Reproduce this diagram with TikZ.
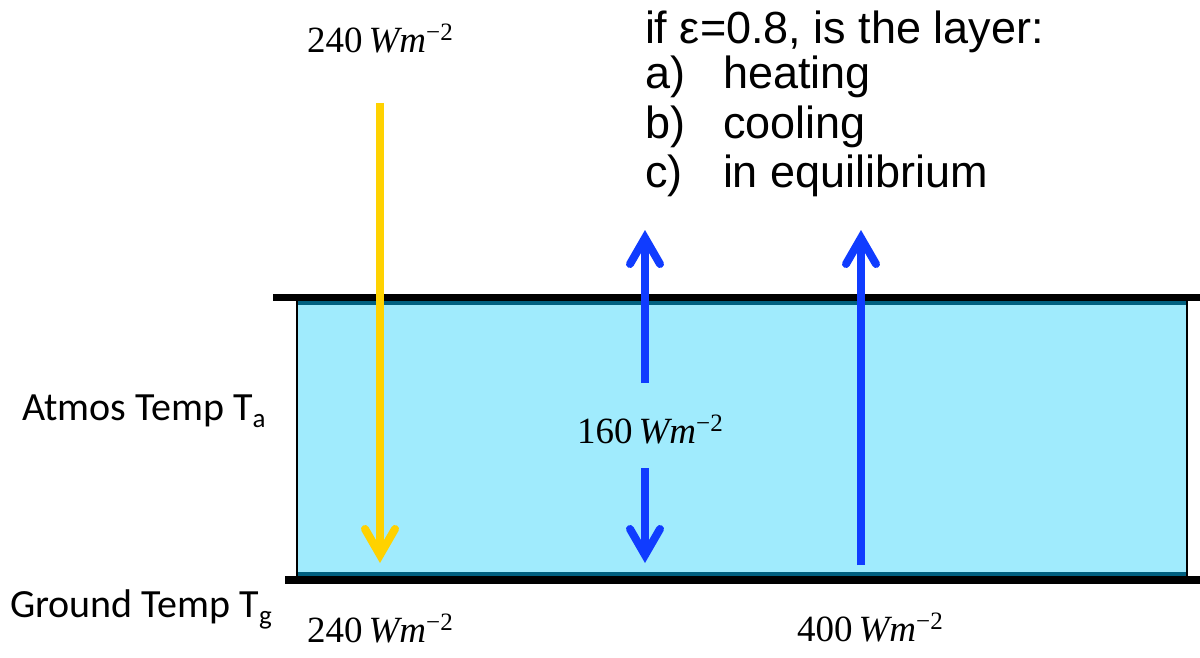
\documentclass[tikz,border=0pt]{standalone}
\usepackage{fontspec}
\setmainfont{Liberation Serif}
\newfontfamily\arialf{Liberation Sans}
\newfontfamily\labf{Carlito}
\usetikzlibrary{arrows.meta}
\definecolor{layerfill}{RGB}{160,235,253}
\definecolor{layeredge}{RGB}{0,96,128}
\definecolor{sunyellow}{RGB}{255,210,0}
\definecolor{irblue}{RGB}{16,60,255}
\newcommand{\flux}[1]{{\fontsize{37}{37}\selectfont #1\,\textit{Wm}\raisebox{12pt}{\fontsize{25}{25}\selectfont −2}}}
\begin{document}
\begin{tikzpicture}[x=1pt,y=-1pt,
  fluxlab/.style={anchor=base west,inner sep=0pt,outer sep=0pt},
  sidelab/.style={anchor=base west,inner sep=0pt,outer sep=0pt,font=\labf\fontsize{40}{40}\selectfont},
  qtext/.style={anchor=base west,inner sep=0pt,outer sep=0pt,font=\arialf\fontsize{45}{45}\selectfont},
  sunarrow/.style={draw=sunyellow,line width=8pt,-{Straight Barb[length=26pt,width=30pt,line cap=round,line join=miter]}},
  irarrow/.style={draw=irblue,line width=8pt,-{Straight Barb[length=26pt,width=30pt,line cap=round,line join=miter]}}
]
\useasboundingbox (0,0) rectangle (1200,658);
\fill[white] (0,0) rectangle (1200,658);
% layer
\fill[layerfill] (297,301) rectangle (1186,576);
\fill[layeredge] (297,301) rectangle (1186,305);
\fill[layeredge] (297,572) rectangle (1186,576);
\draw[line width=2pt] (296.5,301) -- (296.5,576);
\draw[line width=2pt] (1186.5,301) -- (1186.5,576);
\fill[black] (273,294) rectangle (1200,301);
\fill[black] (285,576) rectangle (1200,584);
% arrows
\coordinate (ys) at (380,103);
\coordinate (ye) at (380,563);
\coordinate (b1s) at (645,383);
\coordinate (b1e) at (645,230);
\coordinate (b2s) at (645,468);
\coordinate (b2e) at (645,563);
\coordinate (b3s) at (861,565);
\coordinate (b3e) at (861,230);
\draw[sunarrow] (ys) -- (ye);
\draw[irarrow] (b1s) -- (b1e);
\draw[irarrow] (b2s) -- (b2e);
\draw[irarrow] (b3s) -- (b3e);
% flux labels
\node[fluxlab] (ftop) at (307,53) {\flux{240}};
\node[fluxlab] (fmid) at (577,443) {\flux{160}};
\node[fluxlab] (fbl) at (307,642) {\flux{240}};
\node[fluxlab] (fbr) at (797,641) {\flux{400}};
% side labels
\node[sidelab] (atm) at (22,420) {Atmos Temp T\raisebox{-7pt}{\fontsize{27}{27}\selectfont a}};
\node[sidelab] (gnd) at (10,617) {Ground Temp T\raisebox{-7pt}{\fontsize{27}{27}\selectfont g}};
% question
\node[qtext] (q0) at (645,44) {if ε=0.8, is the layer:};
\node[qtext] (qa) at (645,89) {a)};
\node[qtext] (qat) at (723,89) {heating};
\node[qtext] (qb) at (645,138.5) {b)};
\node[qtext] (qbt) at (723,138.5) {cooling};
\node[qtext] (qc) at (645,188) {c)};
\node[qtext] (qct) at (723,188) {in equilibrium};
\end{tikzpicture}
\end{document}
